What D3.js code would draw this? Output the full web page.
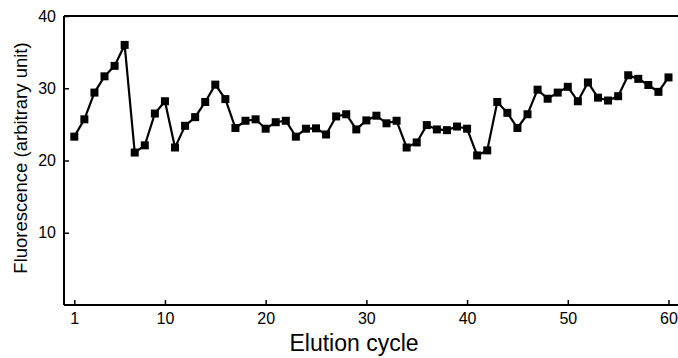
<!DOCTYPE html>
<html>
<head>
<meta charset="utf-8">
<script src="https://cdn.jsdelivr.net/npm/d3@7"></script>
<style>
body { margin: 0; background: #fff; }
text { font-family: "Liberation Sans", Arial, sans-serif; fill: #000; }
</style>
</head>
<body>
<div id="chart"></div>
<script>
const cycles = d3.range(1, 61)
const fluorescence = [
  23.3, 25.7, 29.4, 31.65, 33.1, 36.0, 21.1, 22.1, 26.5, 28.2,
  21.8, 24.8, 26.0, 28.1, 30.5, 28.5, 24.5, 25.5, 25.7, 24.4,
  25.3, 25.5, 23.3, 24.4, 24.45, 23.6, 26.1, 26.4, 24.3, 25.55,
  26.2, 25.15, 25.5, 21.8, 22.5, 24.9, 24.3, 24.2, 24.7, 24.4,
  20.7, 21.4, 28.1, 26.6, 24.5, 26.4, 29.8, 28.55, 29.4, 30.2,
  28.2, 30.8, 28.7, 28.3, 28.9, 31.8, 31.3, 30.45, 29.5, 31.5
]
const xTicks = [1, 10, 20, 30, 40, 50, 60]
const yTicks = [10, 20, 30, 40]

const width = 678, height = 358
const margin = {left: 64, top: 16, right: 0, bottom: 53}

const data = cycles.map((c, i) => ({cycle: c, value: fluorescence[i]}))

const svg = d3.select('#chart')
.append('svg')
.attr('width', width)
.attr('height', height)

const xScale = d3.scaleLinear()
.domain([1, 60])
.range([74.3, 668.5])

const yScale = d3.scaleLinear()
.domain([0, 40])
.range([height - margin.bottom, margin.top])

// bottom axis, ticks pointing inward
const xAxis = svg.append('g')
.attr('transform', `translate(0,${height - margin.bottom})`)
.call(d3.axisBottom(xScale).tickValues(xTicks).tickSize(-5).tickPadding(7).tickSizeOuter(0))
xAxis.select('.domain').attr('d', `M${margin.left},0H${width}`).attr('stroke-width', 2)
xAxis.selectAll('.tick line').attr('stroke-width', 1.5)
xAxis.selectAll('text').attr('font-size', 16).attr('dy', '0.75em')

// left axis, ticks pointing inward
const yAxis = svg.append('g')
.attr('transform', `translate(${margin.left},0)`)
.call(d3.axisLeft(yScale).tickValues(yTicks).tickSize(-5).tickPadding(8).tickSizeOuter(0))
yAxis.select('.domain').attr('d', `M0,${height - margin.bottom}V${margin.top}`).attr('stroke-width', 2)
yAxis.selectAll('.tick line').attr('stroke-width', 1.5)
yAxis.selectAll('text').attr('font-size', 16)

// top frame line
svg.append('line')
.attr('x1', margin.left).attr('x2', width)
.attr('y1', margin.top).attr('y2', margin.top)
.attr('stroke', '#000').attr('stroke-width', 2)

const line = d3.line()
.x(d => xScale(d.cycle))
.y(d => yScale(d.value))

svg.append('path')
.datum(data)
.attr('d', line)
.attr('fill', 'none')
.attr('stroke', '#000')
.attr('stroke-width', 2.2)

const s = 8
svg.selectAll('rect.pt')
.data(data)
.enter()
.append('rect')
.attr('class', 'pt')
.attr('x', d => xScale(d.cycle) - s / 2)
.attr('y', d => yScale(d.value) - s / 2)
.attr('width', s)
.attr('height', s)
.attr('fill', '#000')

svg.append('text')
.attr('x', 354)
.attr('y', 351)
.attr('text-anchor', 'middle')
.attr('font-size', 23)
.text('Elution cycle')

svg.append('text')
.attr('transform', `translate(27,158) rotate(-90)`)
.attr('text-anchor', 'middle')
.attr('font-size', 18.5)
.text('Fluorescence (arbitrary unit)')
</script>
</body>
</html>
